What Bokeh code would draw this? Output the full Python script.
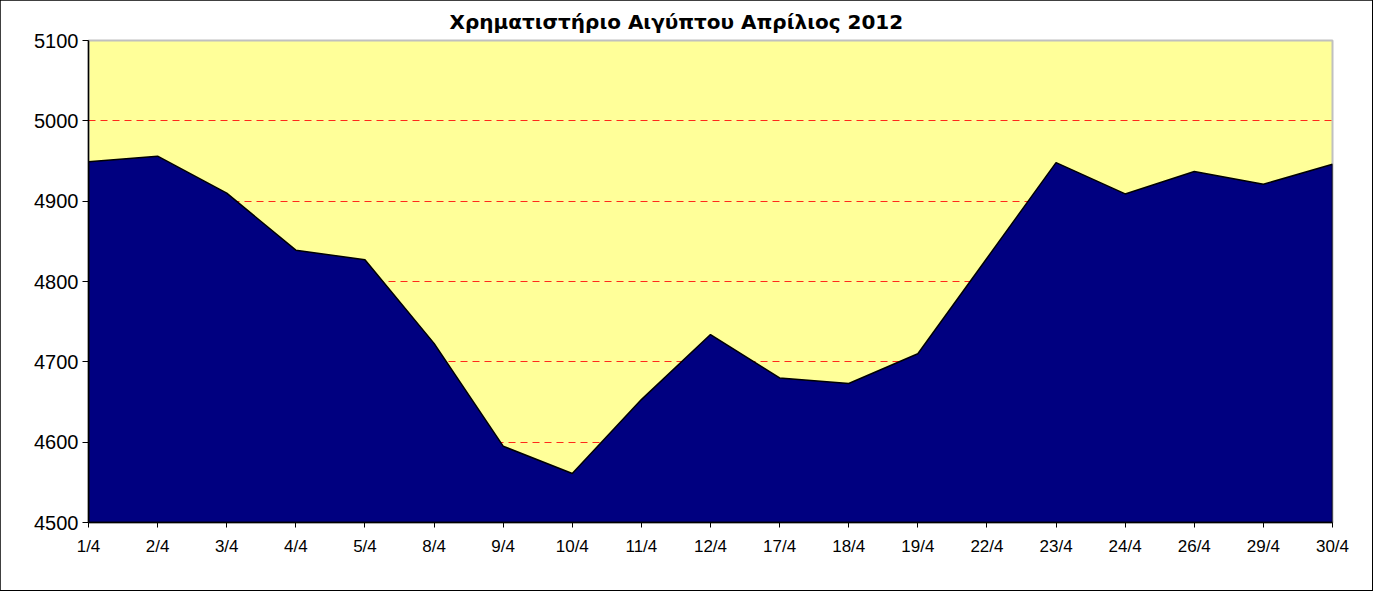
from bokeh.plotting import figure
from bokeh.models import Range1d, FixedTicker
from bokeh.embed import file_html
from bokeh.resources import INLINE

dates = ["1/4", "2/4", "3/4", "4/4", "5/4", "8/4", "9/4", "10/4", "11/4", "12/4",
         "17/4", "18/4", "19/4", "22/4", "23/4", "24/4", "26/4", "29/4", "30/4"]
index_values = [4949, 4956, 4910, 4839, 4827, 4723, 4595, 4561, 4653, 4734,
                4680, 4673, 4710, 4829, 4948, 4909, 4937, 4921, 4946]
y_ticks = [4500, 4600, 4700, 4800, 4900, 5000, 5100]
title_text = "Χρηματιστήριο Αιγύπτου Απρίλιος 2012"

xs = list(range(len(dates)))
y_base = y_ticks[0]

p = figure(frame_width=1244, frame_height=482,
           min_border_left=88, min_border_right=40,
           min_border_top=40, min_border_bottom=68,
           x_range=Range1d(0, len(dates) - 1),
           y_range=Range1d(y_ticks[0], y_ticks[-1]),
           output_backend="svg", toolbar_location=None,
           background_fill_color="#FFFF99", border_fill_color="white",
           title=title_text)

p.styles = {"outline": "2px solid black", "outline-offset": "-1px"}

p.title.align = "left"
p.title.vertical_align = "top"
p.title.offset = 361
p.title.standoff = 10
p.title.text_font = "DejaVu Sans"
p.title.text_font_style = "bold"
p.title.text_font_size = "20px"
p.title.text_color = "black"

p.xgrid.visible = False
p.ygrid.visible = False
p.hspan(y=y_ticks[1:-1], line_color="#FF2A1A", line_dash="7 5",
        line_width=1.2, level="underlay")

px = [xs[0]] + xs + [xs[-1]]
py = [y_base] + index_values + [y_base]
p.patch(px, py, fill_color="#000080", line_color="black", line_width=1.5)

p.outline_line_color = "#C0C0C0"
p.outline_line_width = 2

p.yaxis.ticker = FixedTicker(ticks=y_ticks)
p.yaxis.major_label_text_font = "Liberation Sans"
p.yaxis.major_label_text_font_size = "20px"
p.yaxis.major_label_text_color = "black"
p.yaxis.major_tick_out = 6
p.yaxis.major_tick_in = 0
p.yaxis.minor_tick_line_color = None
p.yaxis.axis_line_color = "black"
p.yaxis.axis_line_width = 1.5
p.yaxis.major_label_standoff = 4

p.xaxis.ticker = FixedTicker(ticks=xs)
p.xaxis.major_label_overrides = {i: d for i, d in enumerate(dates)}
p.xaxis.major_label_text_font = "Liberation Sans"
p.xaxis.major_label_text_font_size = "17px"
p.xaxis.major_label_text_color = "black"
p.xaxis.major_tick_out = 5
p.xaxis.major_tick_in = 0
p.xaxis.minor_tick_line_color = None
p.xaxis.axis_line_color = "black"
p.xaxis.axis_line_width = 1.5
p.xaxis.major_label_standoff = 9

open("out.html", "w").write(file_html(p, INLINE))
